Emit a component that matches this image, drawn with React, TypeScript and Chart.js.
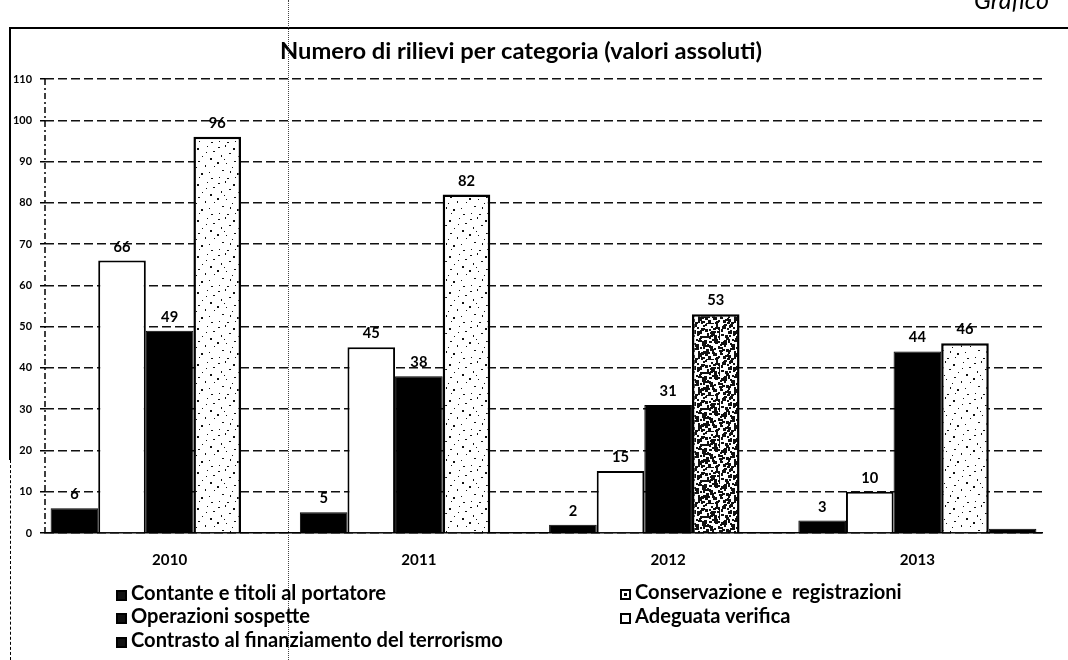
import React, { useEffect, useMemo, useRef } from "react";
import { Chart, registerables } from "chart.js";

Chart.register(...registerables);

const categories = ["2010", "2011", "2012", "2013"];
const contante = [6, 5, 2, 3];
const conservazione = [66, 45, 15, 10];
const operazioni = [49, 38, 31, 44];
const adeguata = [96, 82, 53, 46];
const contrasto = [0, 0, 0, 1];
const yMin = 0;
const yMax = 110;
const yStep = 10;
const titleText = "Numero di rilievi per categoria (valori assoluti)";
const seriesNames = [
  "Contante e titoli al portatore",
  "Conservazione e  registrazioni",
  "Operazioni sospette",
  "Adeguata verifica",
  "Contrasto al finanziamento del terrorismo",
];

const FONT = "Lato, 'Open Sans', sans-serif";

function fitSize(text: string, weight: string, target: number): number {
  const c = document.createElement("canvas");
  const g = c.getContext("2d");
  if (!g) return 14;
  g.font = `${weight} 100px ${FONT}`;
  const w = g.measureText(text).width || 1;
  return Math.round(((100 * target) / w) * 10) / 10;
}

const SPECKS: number[][] = [
  [2, 3, 2, 1], [9, 1, 1, 2], [17, 4, 2, 2], [27, 2, 1, 1], [33, 7, 2, 1],
  [5, 11, 1, 2], [13, 9, 2, 1], [22, 12, 1, 1], [30, 14, 2, 2], [1, 18, 2, 2],
  [10, 19, 1, 1], [18, 17, 2, 1], [25, 21, 1, 2], [34, 22, 1, 1], [6, 26, 2, 1],
  [14, 27, 1, 2], [21, 29, 2, 2], [29, 28, 1, 1], [3, 33, 1, 1], [11, 34, 2, 1],
  [19, 33, 1, 1], [31, 34, 2, 1], [8, 15, 1, 1], [26, 8, 1, 1], [16, 23, 1, 1],
];

function makeSpeckle(ctx: CanvasRenderingContext2D, dense: boolean): CanvasPattern | string {
  const S = 36;
  const c = document.createElement("canvas");
  c.width = S;
  c.height = S;
  const g = c.getContext("2d");
  if (!g) return "#ddd";
  g.fillStyle = "#ffffff";
  g.fillRect(0, 0, S, S);
  g.fillStyle = "#111";
  const offsets = dense ? [[0, 0], [9, 18], [18, 9], [27, 27], [5, 31], [23, 14]] : [[0, 0]];
  const grow = dense ? 1 : 0;
  offsets.forEach(([ox, oy]) => {
    SPECKS.forEach(([x, y, w, h]) => {
      g.fillRect((x + ox) % S, (y + oy) % S, w + grow, h + grow);
    });
  });
  return ctx.createPattern(c, "repeat") || "#ddd";
}

function makeValueLabels(size: number) {
  return {
    id: "valueLabels",
    afterDatasetsDraw(chart: any) {
      const ctx = chart.ctx;
      ctx.save();
      ctx.font = `bold ${size}px ${FONT}`;
      ctx.fillStyle = "#000";
      ctx.textAlign = "center";
      ctx.textBaseline = "alphabetic";
      chart.data.datasets.forEach((ds: any, i: number) => {
        if (i === 4) return;
        const meta = chart.getDatasetMeta(i);
        meta.data.forEach((el: any, j: number) => {
          const v = ds.data[j];
          if (!v) return;
          ctx.fillText(String(v), el.x, el.y - 9);
        });
      });
      ctx.restore();
    },
  };
}

const dashedYAxis = {
  id: "dashedYAxis",
  afterDraw(chart: any) {
    const { ctx, chartArea } = chart;
    ctx.save();
    ctx.strokeStyle = "#000";
    ctx.lineWidth = 1.5;
    ctx.setLineDash([6, 3, 2, 3]);
    ctx.beginPath();
    ctx.moveTo(chartArea.left, chartArea.top);
    ctx.lineTo(chartArea.left, chartArea.bottom);
    ctx.stroke();
    ctx.restore();
  },
};

function LegendBox({ kind, size }: { kind: string; size: number }) {
  const base: React.CSSProperties = {
    display: "inline-block",
    width: size,
    height: size,
    boxSizing: "border-box",
    border: "2px solid #000",
    marginRight: 4,
    verticalAlign: "-1px",
    position: "relative",
  };
  if (kind === "black") return <span style={{ ...base, background: "#111" }} />;
  if (kind === "dot")
    return (
      <span style={{ ...base, background: "#fff" }}>
        <span style={{ position: "absolute", left: 2, top: 2, width: 3, height: 3, background: "#000" }} />
      </span>
    );
  return <span style={{ ...base, background: "#fff" }} />;
}

export default function App() {
  const canvasRef = useRef<HTMLCanvasElement | null>(null);

  const sizes = useMemo(
    () => ({
      title: fitSize(titleText, "bold", 483),
      legend: fitSize(seriesNames[0], "bold", 255),
      xTick: fitSize("2010", "bold", 35),
      yTick: fitSize("110", "bold", 19),
      value: fitSize("96", "bold", 17),
      grafico: fitSize("Grafico", "italic", 75),
    }),
    []
  );

  useEffect(() => {
    document.body.style.margin = "0";
    const canvas = canvasRef.current;
    if (!canvas) return;
    const ctx = canvas.getContext("2d")!;
    const sparse = makeSpeckle(ctx, false);
    const dense = makeSpeckle(ctx, true);
    const titleLine = sizes.title * 1.2;
    const chart = new Chart(canvas, {
      type: "bar",
      data: {
        labels: categories,
        datasets: [
          { label: seriesNames[0], data: contante, backgroundColor: "#000", borderColor: "#000", borderWidth: 1 },
          { label: seriesNames[1], data: conservazione, backgroundColor: "#fff", borderColor: "#000", borderWidth: 2 },
          { label: seriesNames[2], data: operazioni, backgroundColor: "#000", borderColor: "#000", borderWidth: 1 },
          {
            label: seriesNames[3],
            data: adeguata,
            backgroundColor: [sparse, sparse, dense, sparse] as any,
            borderColor: "#000",
            borderWidth: 2.5,
          },
          { label: seriesNames[4], data: contrasto, backgroundColor: "#000", borderColor: "#000", borderWidth: 1 },
        ],
      },
      options: {
        responsive: false,
        animation: false,
        devicePixelRatio: 1,
        datasets: { bar: { categoryPercentage: 0.955, barPercentage: 1 } },
        layout: { padding: { left: 0, right: 26, top: 0, bottom: 0 } },
        plugins: {
          legend: { display: false },
          tooltip: { enabled: false },
          title: {
            display: true,
            text: titleText,
            color: "#000",
            font: { family: FONT, size: sizes.title, weight: "bold", lineHeight: 1.2 },
            padding: { top: 51 - titleLine / 2, bottom: 79 - (51 + titleLine / 2) },
          },
        },
        scales: {
          x: {
            grid: { display: false, drawTicks: false },
            border: { display: true, color: "#000", width: 1.5 },
            ticks: {
              color: "#000",
              font: { family: FONT, size: sizes.xTick, weight: "bold", lineHeight: 1.2 },
              padding: 27 - (sizes.xTick * 1.2) / 2,
            },
            afterFit: (s: any) => {
              s.height = 127;
            },
          },
          y: {
            min: yMin,
            max: yMax,
            ticks: { stepSize: yStep, color: "#000", font: { family: FONT, size: sizes.yTick, weight: "bold" }, padding: 8 },
            grid: { color: "#111", lineWidth: 1.5, tickLength: 5, tickColor: "#000" },
            border: { display: false, dash: [9, 4] },
            afterFit: (s: any) => {
              s.width = 45;
            },
          },
        },
      },
      plugins: [makeValueLabels(sizes.value), dashedYAxis],
    });
    return () => chart.destroy();
  }, [sizes]);

  const legendText: React.CSSProperties = {
    position: "absolute",
    font: `bold ${sizes.legend}px ${FONT}`,
    lineHeight: "22px",
    color: "#000",
    whiteSpace: "pre",
  };
  const box = 11;

  return (
    <div style={{ position: "absolute", left: 0, top: 0, width: 1068, height: 660, background: "#fff", overflow: "hidden" }}>
      <canvas ref={canvasRef} width={1068} height={660} style={{ display: "block", position: "absolute", left: 0, top: 0 }} />
      {/* page frame */}
      <div style={{ position: "absolute", left: 9, top: 27, width: 1059, height: 0, borderTop: "2px solid #000" }} />
      <div style={{ position: "absolute", left: 9, top: 27, width: 0, height: 433, borderLeft: "2px solid #000" }} />
      <div style={{ position: "absolute", left: 10, top: 460, width: 0, height: 200, borderLeft: "1px dashed #000" }} />
      <div style={{ position: "absolute", left: 288, top: 0, width: 0, height: 660, borderLeft: "1px dotted #444" }} />
      <div
        style={{
          position: "absolute",
          left: 974,
          top: 8 - sizes.grafico * 0.95,
          font: `italic ${sizes.grafico}px ${FONT}`,
          lineHeight: `${sizes.grafico * 1.2}px`,
          color: "#000",
        }}
      >
        Grafico
      </div>
      {/* legend */}
      <div style={{ ...legendText, left: 116, top: 581 }}><LegendBox kind="black" size={box} />{seriesNames[0]}</div>
      <div style={{ ...legendText, left: 116, top: 604 }}><LegendBox kind="black" size={box} />{seriesNames[2]}</div>
      <div style={{ ...legendText, left: 116, top: 628 }}><LegendBox kind="black" size={box} />{seriesNames[4]}</div>
      <div style={{ ...legendText, left: 620, top: 580 }}><LegendBox kind="dot" size={box} />{seriesNames[1]}</div>
      <div style={{ ...legendText, left: 620, top: 604 }}><LegendBox kind="white" size={box} />{seriesNames[3]}</div>
    </div>
  );
}
